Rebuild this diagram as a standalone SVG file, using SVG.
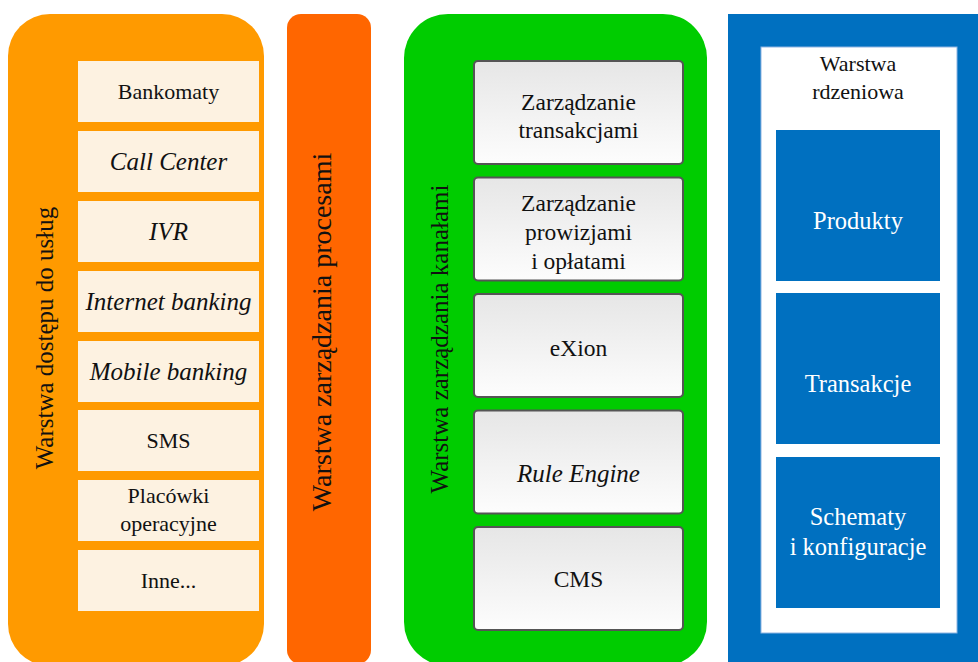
<svg xmlns="http://www.w3.org/2000/svg" width="978" height="662" viewBox="0 0 978 662">
  <defs>
    <linearGradient id="grayFill" x1="0" y1="0" x2="0" y2="1">
      <stop offset="0" stop-color="#E6E6E6"/>
      <stop offset="1" stop-color="#FDFDFD"/>
    </linearGradient>
    <style>
      text { fill: #111; text-anchor: middle; }
      .it { font-style: italic; }
      .access { fill: #FDF2E1; }
      .channel { fill: url(#grayFill); stroke: #555555; stroke-width: 2; }
      .core { fill: #0070C0; }
      .coreText { fill: #FFFFFF; font-size: 24.5px; }
      .s22 { font-size: 22px; }
      .s23 { font-size: 23.5px; }
      .s25 { font-size: 25px; }
    </style>
  </defs>

  <rect width="978" height="662" fill="#FFFFFF"/>

  <g font-family="Liberation Serif, DejaVu Serif, serif">
  <!-- Access layer -->
  <g id="access-layer">
    <rect x="8" y="14" width="256" height="652" rx="42" fill="#FF9A00"/>
    <text class="s25" transform="translate(53 338) rotate(-90)">Warstwa dostępu do usług</text>
    <g id="bankomaty"><rect class="access" x="78" y="61" width="181" height="61"/><text class="s22" x="168.5" y="99">Bankomaty</text></g>
    <g id="call-center"><rect class="access" x="78" y="131" width="181" height="61"/><text class="s25 it" x="168.5" y="170">Call Center</text></g>
    <g id="ivr"><rect class="access" x="78" y="201" width="181" height="61"/><text class="s25 it" x="168.5" y="240">IVR</text></g>
    <g id="internet-banking"><rect class="access" x="78" y="271" width="181" height="61"/><text class="s25 it" x="168.5" y="310">Internet banking</text></g>
    <g id="mobile-banking"><rect class="access" x="78" y="341" width="181" height="61"/><text class="s25 it" x="168.5" y="380">Mobile banking</text></g>
    <g id="sms"><rect class="access" x="78" y="410" width="181" height="61"/><text class="s22" x="168.5" y="448">SMS</text></g>
    <g id="placowki"><rect class="access" x="78" y="480" width="181" height="61"/><text class="s22" x="168.5" y="503">Placówki</text><text class="s22" x="168.5" y="531">operacyjne</text></g>
    <g id="inne"><rect class="access" x="78" y="550" width="181" height="61"/><text class="s22" x="168.5" y="588">Inne...</text></g>
  </g>

  <!-- Process management layer -->
  <g id="process-layer">
    <rect x="287" y="14" width="84" height="650" rx="14" fill="#FF6600"/>
    <text style="font-size:28px" transform="translate(331 332) rotate(-90)">Warstwa zarządzania procesami</text>
  </g>

  <!-- Channel management layer -->
  <g id="channel-layer">
    <rect x="404" y="14" width="303" height="652" rx="44" fill="#00CC00"/>
    <text class="s25" transform="translate(448 339) rotate(-90)">Warstwa zarządzania kanałami</text>
    <g id="transakcje-mgmt"><rect class="channel" x="474" y="61" width="209" height="103" rx="4"/><text class="s23" x="578.5" y="110">Zarządzanie</text><text class="s23" x="578.5" y="138">transakcjami</text></g>
    <g id="prowizje-mgmt"><rect class="channel" x="474" y="177.5" width="209" height="103" rx="4"/><text class="s23" x="578.5" y="211">Zarządzanie</text><text class="s23" x="578.5" y="240">prowizjami</text><text class="s23" x="578.5" y="269">i opłatami</text></g>
    <g id="exion"><rect class="channel" x="474" y="294" width="209" height="103" rx="4"/><text class="s23" x="578.5" y="356">eXion</text></g>
    <g id="rule-engine"><rect class="channel" x="474" y="410.5" width="209" height="103" rx="4"/><text class="s25 it" x="578.5" y="482">Rule Engine</text></g>
    <g id="cms"><rect class="channel" x="474" y="527" width="209" height="103" rx="4"/><text class="s23" x="578.5" y="587">CMS</text></g>
  </g>

  <!-- Core layer -->
  <g id="core-layer">
    <rect x="728" y="14" width="260" height="660" fill="#0070C0"/>
    <rect x="761" y="47" width="196" height="586" fill="#FFFFFF" stroke="#8DB4E2" stroke-width="1"/>
    <text class="s22" x="858" y="71">Warstwa</text>
    <text class="s22" x="858" y="99">rdzeniowa</text>
    <g id="produkty"><rect class="core" x="776" y="130" width="164" height="151"/><text class="coreText" x="858" y="229">Produkty</text></g>
    <g id="transakcje"><rect class="core" x="776" y="293" width="164" height="151"/><text class="coreText" x="858" y="392">Transakcje</text></g>
    <g id="schematy"><rect class="core" x="776" y="457" width="164" height="151"/><text class="coreText" x="858" y="525">Schematy</text><text class="coreText" x="858" y="555">i konfiguracje</text></g>
  </g>
  </g>
</svg>
